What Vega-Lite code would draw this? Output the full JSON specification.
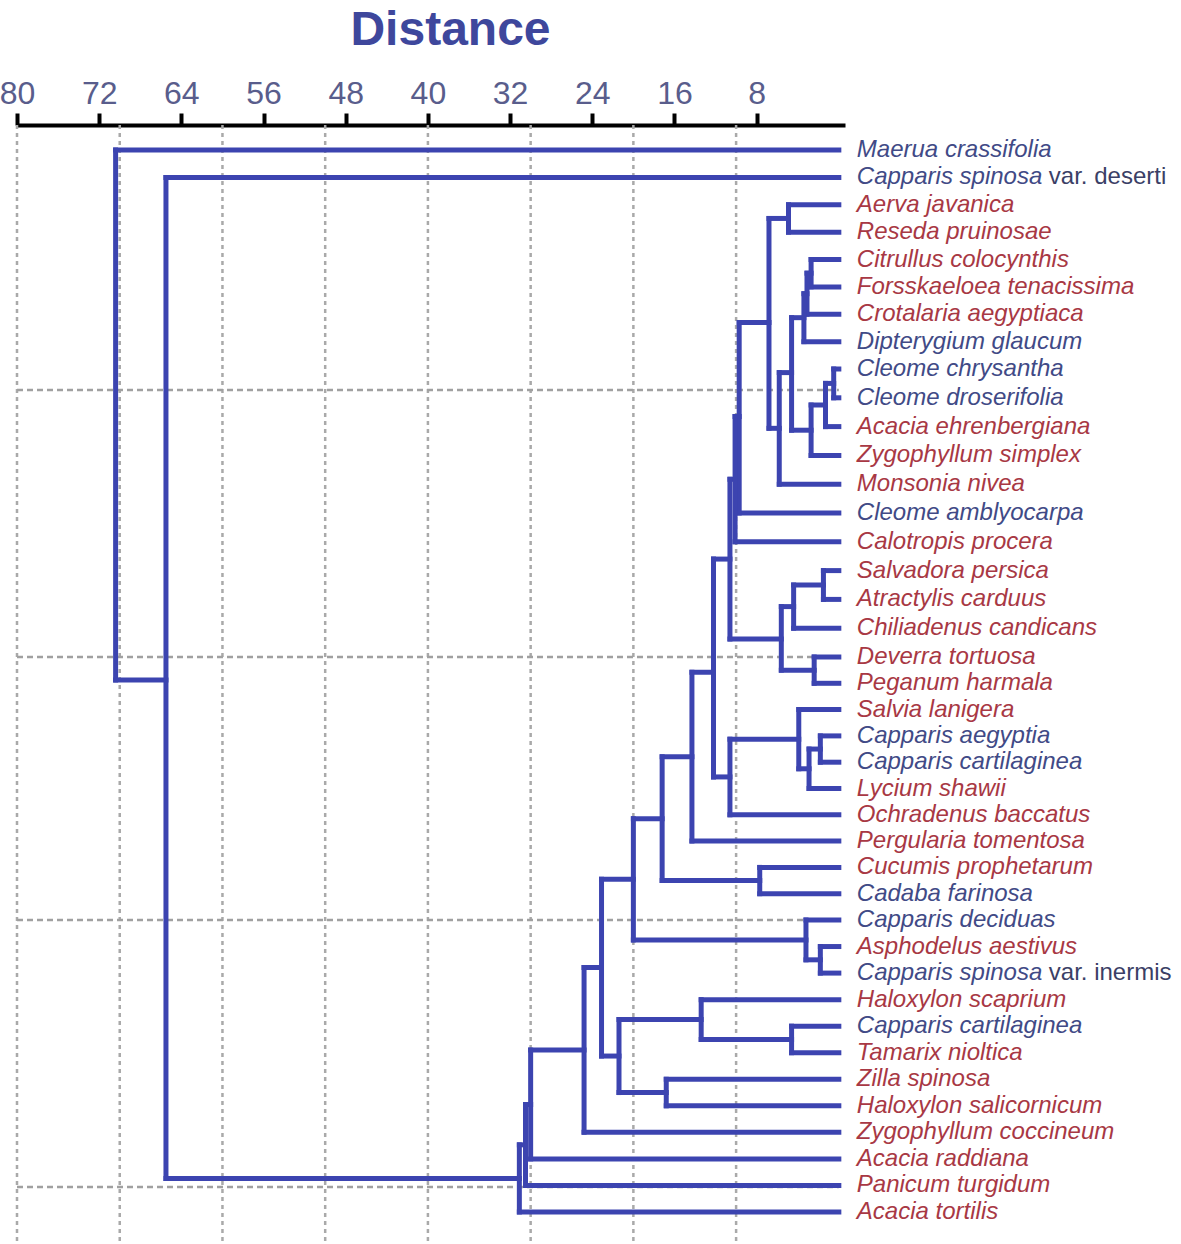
{
  "$schema": "https://vega.github.io/schema/vega-lite/v6.json",
  "width": 828,
  "height": 1119,
  "autosize": {"type": "none"},
  "padding": {"left": 17, "top": 125, "right": 336, "bottom": 0},
  "background": "white",
  "config": {
    "view": {"stroke": null},
    "axisX": {
      "domainColor": "black", "domainWidth": 4,
      "tickColor": "black", "tickWidth": 4, "tickSize": 12,
      "labelFont": "Liberation Sans", "labelFontSize": 32, "labelColor": "#595d8c",
      "labelPadding": 3, "labelFlush": false, "grid": false,
      "titleFont": "Liberation Sans", "titleFontSize": 48, "titleFontWeight": "bold",
      "titleColor": "#3e479c", "titleX": 433, "titleY": -81, "titleAlign": "center",
      "titleBaseline": "alphabetic", "titleAngle": 0
    }
  },
  "datasets": {
    "vgrid": [{"d": 80}, {"d": 70}, {"d": 60}, {"d": 50}, {"d": 40}, {"d": 30}, {"d": 20}, {"d": 10}],
    "hgrid": [
      {"y": 9.73, "d": 80, "pd": 0},
      {"y": 19, "d": 80, "pd": 0},
      {"y": 29, "d": 80, "pd": 0},
      {"y": 39.06, "d": 80, "pd": 0}
    ],
    "nodes": [
      {"id": "L1", "name": "Maerua crassifolia", "grp": "blue", "d": 0, "y": 1, "pd": 70.4},
      {"id": "L2", "name": "Capparis spinosa", "var": "var. deserti", "grp": "blue", "d": 0, "y": 2, "pd": 65.5},
      {"id": "L3", "name": "Aerva javanica", "grp": "red", "d": 0, "y": 3, "pd": 4.9},
      {"id": "L4", "name": "Reseda pruinosae", "grp": "red", "d": 0, "y": 4, "pd": 4.9},
      {"id": "L5", "name": "Citrullus colocynthis", "grp": "red", "d": 0, "y": 5, "pd": 2.7},
      {"id": "L6", "name": "Forsskaeloea tenacissima", "grp": "red", "d": 0, "y": 6, "pd": 2.7},
      {"id": "L7", "name": "Crotalaria aegyptiaca", "grp": "red", "d": 0, "y": 7, "pd": 3.1},
      {"id": "L8", "name": "Dipterygium glaucum", "grp": "blue", "d": 0, "y": 8, "pd": 3.4},
      {"id": "L9", "name": "Cleome chrysantha", "grp": "blue", "d": 0, "y": 9, "pd": 0.5},
      {"id": "L10", "name": "Cleome droserifolia", "grp": "blue", "d": 0, "y": 10, "pd": 0.5},
      {"id": "L11", "name": "Acacia ehrenbergiana", "grp": "red", "d": 0, "y": 11, "pd": 1.3},
      {"id": "L12", "name": "Zygophyllum simplex", "grp": "red", "d": 0, "y": 12, "pd": 2.7},
      {"id": "L13", "name": "Monsonia nivea", "grp": "red", "d": 0, "y": 13, "pd": 5.8},
      {"id": "L14", "name": "Cleome amblyocarpa", "grp": "blue", "d": 0, "y": 14, "pd": 9.7},
      {"id": "L15", "name": "Calotropis procera", "grp": "red", "d": 0, "y": 15, "pd": 10.1},
      {"id": "L16", "name": "Salvadora persica", "grp": "red", "d": 0, "y": 16, "pd": 1.5},
      {"id": "L17", "name": "Atractylis carduus", "grp": "red", "d": 0, "y": 17, "pd": 1.5},
      {"id": "L18", "name": "Chiliadenus candicans", "grp": "red", "d": 0, "y": 18, "pd": 4.4},
      {"id": "L19", "name": "Deverra tortuosa", "grp": "red", "d": 0, "y": 19, "pd": 2.4},
      {"id": "L20", "name": "Peganum harmala", "grp": "red", "d": 0, "y": 20, "pd": 2.4},
      {"id": "L21", "name": "Salvia lanigera", "grp": "red", "d": 0, "y": 21, "pd": 3.9},
      {"id": "L22", "name": "Capparis aegyptia", "grp": "blue", "d": 0, "y": 22, "pd": 1.8},
      {"id": "L23", "name": "Capparis cartilaginea", "grp": "blue", "d": 0, "y": 23, "pd": 1.8},
      {"id": "L24", "name": "Lycium shawii", "grp": "red", "d": 0, "y": 24, "pd": 2.9},
      {"id": "L25", "name": "Ochradenus baccatus", "grp": "red", "d": 0, "y": 25, "pd": 10.6},
      {"id": "L26", "name": "Pergularia tomentosa", "grp": "red", "d": 0, "y": 26, "pd": 14.3},
      {"id": "L27", "name": "Cucumis prophetarum", "grp": "red", "d": 0, "y": 27, "pd": 7.7},
      {"id": "L28", "name": "Cadaba farinosa", "grp": "blue", "d": 0, "y": 28, "pd": 7.7},
      {"id": "L29", "name": "Capparis deciduas", "grp": "blue", "d": 0, "y": 29, "pd": 3.2},
      {"id": "L30", "name": "Asphodelus aestivus", "grp": "red", "d": 0, "y": 30, "pd": 1.8},
      {"id": "L31", "name": "Capparis spinosa", "var": "var. inermis", "grp": "blue", "d": 0, "y": 31, "pd": 1.8},
      {"id": "L32", "name": "Haloxylon scaprium", "grp": "red", "d": 0, "y": 32, "pd": 13.4},
      {"id": "L33", "name": "Capparis cartilaginea", "grp": "blue", "d": 0, "y": 33, "pd": 4.6},
      {"id": "L34", "name": "Tamarix nioltica", "grp": "red", "d": 0, "y": 34, "pd": 4.6},
      {"id": "L35", "name": "Zilla spinosa", "grp": "red", "d": 0, "y": 35, "pd": 16.8},
      {"id": "L36", "name": "Haloxylon salicornicum", "grp": "red", "d": 0, "y": 36, "pd": 16.8},
      {"id": "L37", "name": "Zygophyllum coccineum", "grp": "red", "d": 0, "y": 37, "pd": 24.8},
      {"id": "L38", "name": "Acacia raddiana", "grp": "red", "d": 0, "y": 38, "pd": 30.0},
      {"id": "L39", "name": "Panicum turgidum", "grp": "red", "d": 0, "y": 39, "pd": 30.5},
      {"id": "L40", "name": "Acacia tortilis", "grp": "red", "d": 0, "y": 40, "pd": 31.1},
      {"id": "A", "d": 4.9, "y": 3.5, "y1": 3, "y2": 4, "pd": 6.8},
      {"id": "F", "d": 2.7, "y": 5.5, "y1": 5, "y2": 6, "pd": 3.1},
      {"id": "G", "d": 3.1, "y": 6.25, "y1": 5.5, "y2": 7, "pd": 3.4},
      {"id": "E", "d": 3.4, "y": 7.125, "y1": 6.25, "y2": 8, "pd": 4.6},
      {"id": "Ch", "d": 0.5, "y": 9.5, "y1": 9, "y2": 10, "pd": 1.3},
      {"id": "Ca", "d": 1.3, "y": 10.25, "y1": 9.5, "y2": 11, "pd": 2.7},
      {"id": "K", "d": 2.7, "y": 11.125, "y1": 10.25, "y2": 12, "pd": 4.6},
      {"id": "D", "d": 4.6, "y": 9.125, "y1": 7.125, "y2": 11.125, "pd": 5.8},
      {"id": "C", "d": 5.8, "y": 11.06, "y1": 9.125, "y2": 13, "pd": 6.8},
      {"id": "B", "d": 6.8, "y": 7.3, "y1": 3.5, "y2": 11.06, "pd": 9.7},
      {"id": "H", "d": 9.7, "y": 10.65, "y1": 7.3, "y2": 14, "pd": 10.1},
      {"id": "I1", "d": 10.1, "y": 12.83, "y1": 10.65, "y2": 15, "pd": 10.6},
      {"id": "S1", "d": 1.5, "y": 16.5, "y1": 16, "y2": 17, "pd": 4.4},
      {"id": "L", "d": 4.4, "y": 17.25, "y1": 16.5, "y2": 18, "pd": 5.6},
      {"id": "De", "d": 2.4, "y": 19.5, "y1": 19, "y2": 20, "pd": 5.6},
      {"id": "M", "d": 5.6, "y": 18.375, "y1": 17.25, "y2": 19.5, "pd": 10.6},
      {"id": "I2", "d": 10.6, "y": 15.6, "y1": 12.83, "y2": 18.375, "pd": 12.2},
      {"id": "Cp", "d": 1.8, "y": 22.5, "y1": 22, "y2": 23, "pd": 2.9},
      {"id": "Ly", "d": 2.9, "y": 23.25, "y1": 22.5, "y2": 24, "pd": 3.9},
      {"id": "N", "d": 3.9, "y": 22.125, "y1": 21, "y2": 23.25, "pd": 10.6},
      {"id": "O", "d": 10.6, "y": 23.56, "y1": 22.125, "y2": 25, "pd": 12.2},
      {"id": "J", "d": 12.2, "y": 19.58, "y1": 15.6, "y2": 23.56, "pd": 14.3},
      {"id": "P", "d": 14.3, "y": 22.79, "y1": 19.58, "y2": 26, "pd": 17.2},
      {"id": "Cu", "d": 7.7, "y": 27.5, "y1": 27, "y2": 28, "pd": 17.2},
      {"id": "Q", "d": 17.2, "y": 25.15, "y1": 22.79, "y2": 27.5, "pd": 20.0},
      {"id": "As", "d": 1.8, "y": 30.5, "y1": 30, "y2": 31, "pd": 3.2},
      {"id": "S", "d": 3.2, "y": 29.75, "y1": 29, "y2": 30.5, "pd": 20.0},
      {"id": "R", "d": 20.0, "y": 27.45, "y1": 25.15, "y2": 29.75, "pd": 23.1},
      {"id": "Ta", "d": 4.6, "y": 33.5, "y1": 33, "y2": 34, "pd": 13.4},
      {"id": "Hs", "d": 13.4, "y": 32.75, "y1": 32, "y2": 33.5, "pd": 21.4},
      {"id": "Zi", "d": 16.8, "y": 35.5, "y1": 35, "y2": 36, "pd": 21.4},
      {"id": "T", "d": 21.4, "y": 34.125, "y1": 32.75, "y2": 35.5, "pd": 23.1},
      {"id": "U", "d": 23.1, "y": 30.79, "y1": 27.45, "y2": 34.125, "pd": 24.8},
      {"id": "V", "d": 24.8, "y": 33.9, "y1": 30.79, "y2": 37, "pd": 30.0},
      {"id": "W", "d": 30.0, "y": 35.95, "y1": 33.9, "y2": 38, "pd": 30.5},
      {"id": "X", "d": 30.5, "y": 37.47, "y1": 35.95, "y2": 39, "pd": 31.1},
      {"id": "Y", "d": 31.1, "y": 38.74, "y1": 37.47, "y2": 40, "pd": 65.5},
      {"id": "R2", "d": 65.5, "y": 19.87, "y1": 2, "y2": 38.74, "pd": 70.4},
      {"id": "Root", "d": 70.4, "y": 10.6, "y1": 1, "y2": 19.87}
    ]
  },
  "encoding": {
    "x": {
      "field": "d", "type": "quantitative",
      "scale": {"domain": [80, -0.6], "nice": false, "zero": false},
      "axis": {"orient": "top", "values": [80, 72, 64, 56, 48, 40, 32, 24, 16, 8]},
      "title": "Distance"
    }
  },
  "layer": [
    {
      "data": {"name": "vgrid"},
      "mark": {"type": "rule", "color": "#a9a9a9", "strokeWidth": 2.5, "strokeDash": [4, 4]},
      "encoding": {}
    },
    {
      "data": {"name": "hgrid"},
      "mark": {"type": "rule", "color": "#a0a0a0", "strokeWidth": 2.5, "strokeDash": [6, 4]},
      "encoding": {
        "x2": {"field": "pd"},
        "y": {"field": "y", "type": "quantitative", "axis": null,
              "scale": {"domain": [1, 9, 19, 29, 40], "range": [25, 244, 532, 795, 1087], "nice": false, "zero": false}}
      }
    },
    {
      "data": {"name": "nodes"},
      "transform": [{"filter": "datum.pd != null"}],
      "mark": {"type": "rule", "color": "#3c44b0", "strokeWidth": 5, "strokeCap": "square"},
      "encoding": {
        "x2": {"field": "pd"},
        "y": {"field": "y", "type": "quantitative", "axis": null,
              "scale": {"domain": [1, 9, 19, 29, 40], "range": [25, 244, 532, 795, 1087], "nice": false, "zero": false}}
      }
    },
    {
      "data": {"name": "nodes"},
      "transform": [{"filter": "datum.y1 != null"}],
      "mark": {"type": "rule", "color": "#3c44b0", "strokeWidth": 5, "strokeCap": "square"},
      "encoding": {
        "y": {"field": "y1", "type": "quantitative", "axis": null,
              "scale": {"domain": [1, 9, 19, 29, 40], "range": [25, 244, 532, 795, 1087], "nice": false, "zero": false}},
        "y2": {"field": "y2"}
      }
    },
    {
      "data": {"name": "nodes"},
      "transform": [{"filter": "datum.name != null"}],
      "mark": {"type": "text", "align": "left", "baseline": "middle", "dx": 18,
               "font": "Liberation Sans", "fontSize": 24, "fontStyle": "italic"},
      "encoding": {
        "y": {"field": "y", "type": "quantitative", "axis": null,
              "scale": {"domain": [1, 9, 19, 29, 40], "range": [25, 244, 532, 795, 1087], "nice": false, "zero": false}},
        "text": {"field": "name"},
        "color": {"field": "grp", "type": "nominal", "legend": null,
                  "scale": {"domain": ["blue", "red"], "range": ["#414a86", "#a83844"]}}
      }
    },
    {
      "data": {"name": "nodes"},
      "transform": [{"filter": "datum.var != null"}],
      "mark": {"type": "text", "align": "left", "baseline": "middle", "dx": 210,
               "font": "Liberation Sans", "fontSize": 24, "color": "#3b3f66"},
      "encoding": {
        "y": {"field": "y", "type": "quantitative", "axis": null,
              "scale": {"domain": [1, 9, 19, 29, 40], "range": [25, 244, 532, 795, 1087], "nice": false, "zero": false}},
        "text": {"field": "var"}
      }
    }
  ]
}
